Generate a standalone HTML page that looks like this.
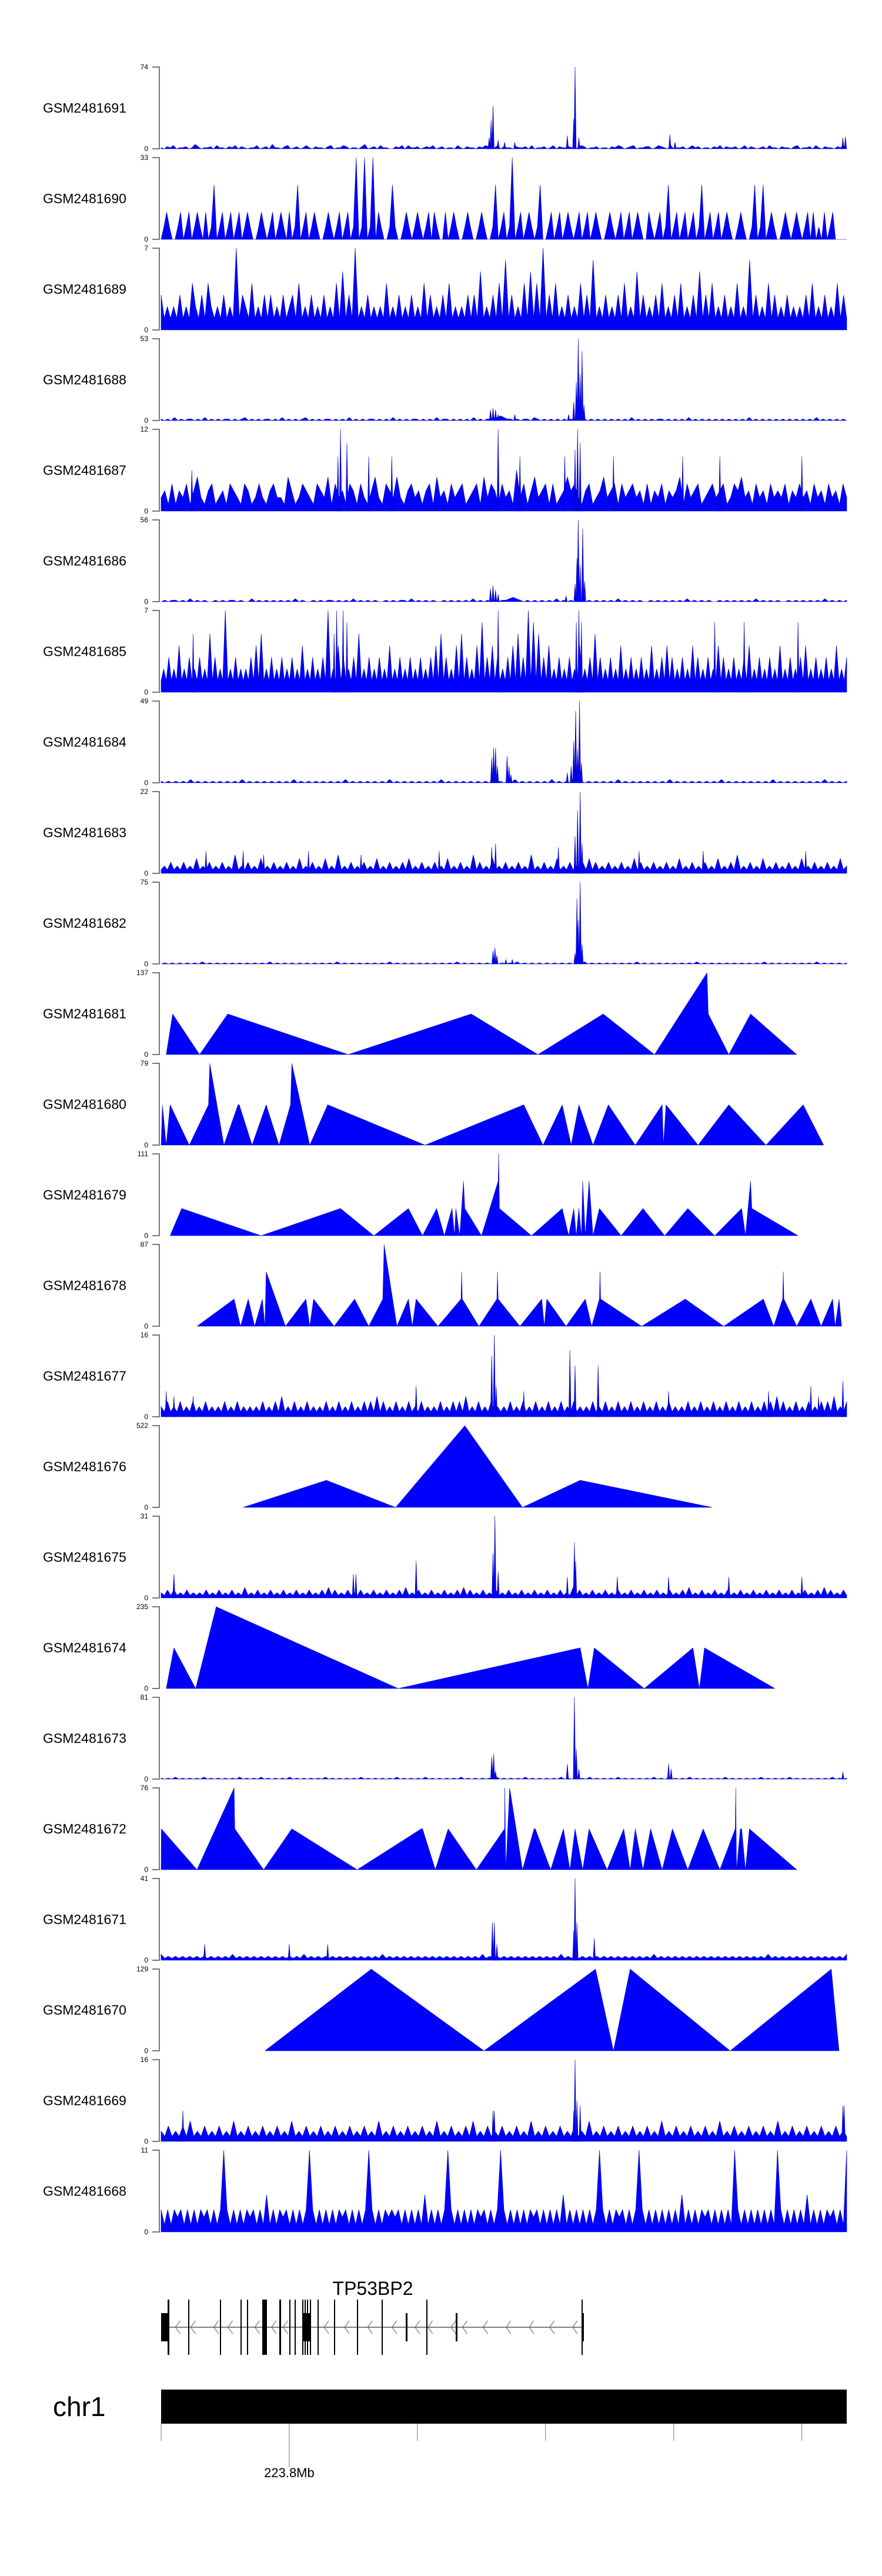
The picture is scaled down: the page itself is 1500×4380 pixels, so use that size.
<!DOCTYPE html>
<html><head><meta charset="utf-8">
<style>
html,body{margin:0;padding:0;background:#fff;}
svg{display:block;font-family:"Liberation Sans",Arial,sans-serif;}
</style></head>
<body>
<svg id="fig" width="1500" height="4380" viewBox="0 0 1500 4380" xmlns="http://www.w3.org/2000/svg">
<rect x="0" y="0" width="1500" height="4380" fill="#fff"/>
<g id="tracks"></g>
<g id="gene">
  <text x="634" y="3902" font-size="32" text-anchor="middle" fill="#000">TP53BP2</text>
</g>
<g id="ideo">
  <text x="90" y="4108" font-size="46" fill="#000">chr1</text>
  <rect x="274" y="4063" width="1166" height="58" fill="#000"/>
</g>
</svg>
<script>
// genomic domain (kb offset from 223.79 Mb)
const domainKb = [0, 53.5];
const tickKb = [0, 10, 20, 30, 40, 50];
const tickLabels = ["", "223.8Mb", "", "", "", ""];
const trackNames = ["GSM2481691","GSM2481690","GSM2481689","GSM2481688","GSM2481687","GSM2481686","GSM2481685","GSM2481684","GSM2481683","GSM2481682","GSM2481681","GSM2481680","GSM2481679","GSM2481678","GSM2481677","GSM2481676","GSM2481675","GSM2481674","GSM2481673","GSM2481672","GSM2481671","GSM2481670","GSM2481669","GSM2481668"];
const trackMax = [74,33,7,53,12,56,7,49,22,75,137,79,111,87,16,522,31,235,81,76,41,129,16,11];

// background coverage strings (base-36 digits = values, evenly spaced bins)
const bg1691 = "1021301120142011203110213021011301204110230120131021102301132011024012031100213031120121301201103102110213201302110211203011201302112101320112011021320123011220132103011201312011021302112013021012031102110230112031021102130";
const bg1690 = "05b5005b05b05b50b05m05b05b05b05b5005b505b05b50b05m05b05b5005b505b05b05x05x05x0b5005m5005b505b505b0b500b05b5005b5005b5005m05b05x05b05b505m005b05b05b505b05b05b5005b505b05b05b500b505b05m05b05b05b05m05b05b05b5005b5005m05m05b5005b505b505b0b050b05b00000";
const bg1689 = "3121213121421314212131217132141213131213123141213121312141513171213121214121312131214131213141212131315121314161312141514171314121312141316121312131412151312131412131412131513141213121412161312141312131212131412131214131";
const bg1688 = "1010201011010201010110101201010110102010101201010110101020101011010102010101101010201101010102010112232110101102101010101010201010101010101020101010110101010201010101010101010201010101010101010102010101010";
const bg1687 = "2314132413521341231432143124213422153124321432514231431421352143252134231341523142341234152431423162413523414123534213412352341423423141324132351423412342341243523142314232413242314231423142";
const bg1686 = "0101101020101001010110100201010101010201001010110101020101010010101102010101001010101020101010112321010101010201010010101010102010101001010101010201010100101010101020101010010101010102010101";
const bg1685 = "1213121412131213121513121712131212131415121312131213121412131213171214131213151213121312141213121312131213141513121415131214161314131213141513171615131412131213121412131513121312141213121312141213141312131214131213121413121312131412131213121412131213141213121312141213";
const bg1684 = "1010101020101010101010201010101010102010101010101020101010101020101010101010201010101010102010102010101010201010101010101010201010101010102010101010101020101010101010201010101010102010101";
const bg1683 = "1213121312141213121312151213121412131213121412131214121512131213121412131213141213121312141213121513121412131213121512131214121312131413121312131214131213121312141213121312141213151213121412131213121412131213121412";
const bg1682 = "0101010101020101010101010101020101010101010101020101010101010201010101010101010201010101010101020101010101010101020101010101010201010101010101020101010101010101020101010101010201010101";
const bg1677 = "2131213121312131212131213121212131213141213121312121312131213121313141312131213121312121312131314121312131212131213121312131213121312121312131213121312131213121312121312131213121312131213121313141312131213121313141213";
const bg1675 = "2131312131212131213121312141213121312131213121312131413121312131213121312131412131213121312131413121312131213121312131213121312141312131213121312131213121312131213141213121312131213121312131213121312131213141312131";
const bg1673 = "1010201010102010101010201010201010102010101010201010101020101010102010101020101010102010101010201010102010101010201010102010101020101010102010101010201010101020101010102010101020101010101020101";
const bg1671 = "3121212121212121212131212121212121212121312121212121212121212131212121212121212121212121213121212121212121212121312121212121212121212121213121212121212121212121212121212131212121212121212121213";
const bg1669 = "2131213141213121312141213121312131214121312131213121312131214121312131213121412131213141213121312131214121312131213121412131213121312131214121312131213121412131213121312141213121312131213121";
const bg1668 = "3131323131313231313b3131313231315131323131313b31313131323131313b31313232313131315131313b313131313231313b31313131323131313151313131313b31313231313b3131313131315131313231313131b313131313131b31313131513131323131b";

// peak lists: [position kb, value]
const pk1691 = [[25.6,10],[25.75,26],[25.9,39],[26.3,8],[26.8,6],[27.6,6],[31.7,12],[32.2,27],[32.3,74],[32.6,10],[39.7,13],[40.1,6],[53.2,10],[53.4,11]];
const pk1688 = [[25.7,7],[25.9,8],[26.1,7],[26.3,4],[27.6,4],[31.8,4],[32.2,12],[32.4,25],[32.55,53],[32.7,30],[32.85,45],[33.0,10]];
const pk1687 = [[2.4,6],[13.8,8],[14.0,12],[14.5,10],[16.2,8],[18.0,8],[26.3,12],[28.0,8],[31.5,8],[32.3,9],[32.5,12],[32.7,10],[35.3,8],[40.7,8],[43.6,8],[50.0,8]];
const pk1686 = [[25.7,9],[25.9,11],[26.1,8],[26.3,5],[31.6,4],[32.3,12],[32.45,30],[32.55,56],[32.7,25],[32.9,50],[33.05,14]];
const pk1685 = [[2.5,5],[13.5,5],[13.7,7],[14.2,7],[14.5,6],[26.3,7],[32.4,6],[32.6,7],[32.8,6],[43.2,6],[45.5,6],[49.7,6]];
const pk1684 = [[25.8,15],[25.95,21],[26.1,21],[26.25,10],[27.0,16],[27.15,10],[27.3,5],[31.7,6],[32.0,10],[32.2,25],[32.35,43],[32.5,20],[32.65,49],[32.8,12]];
const pk1683 = [[3.5,6],[6.4,6],[8.0,5],[11.5,6],[15.6,5],[21.7,6],[25.8,7],[26.1,8],[31.0,7],[32.3,10],[32.5,17],[32.7,22],[32.85,8],[37.3,6],[42.3,6],[50.3,6]];
const pk1682 = [[25.9,12],[26.05,15],[26.2,8],[26.9,4],[27.4,4],[32.3,10],[32.45,60],[32.55,40],[32.7,75],[32.85,18]];
const pk1677 = [[0.4,5],[1.0,4],[2.5,4],[19.9,6],[25.8,12],[26.0,16],[26.15,6],[28.3,5],[31.9,13],[32.3,10],[34.1,10],[39.6,5],[47.4,5],[50.7,6],[51.3,4],[53.2,7]];
const pk1675 = [[1.0,9],[15.0,9],[15.2,9],[19.9,14],[25.9,17],[26.05,31],[26.3,10],[31.7,8],[32.25,21],[32.35,14],[35.6,8],[39.6,8],[44.3,8],[50.0,8]];
const pk1673 = [[25.8,22],[25.95,25],[26.1,8],[31.7,15],[32.25,81],[32.4,30],[32.6,10],[39.6,15],[39.8,10],[53.2,7]];
const pk1671 = [[3.4,8],[10.0,8],[13.0,8],[25.85,19],[26.0,19],[26.2,8],[32.2,15],[32.3,41],[32.45,19],[33.8,11]];
const pk1669 = [[1.7,6],[25.9,6],[26.0,6],[32.2,6],[32.3,16],[32.45,8],[32.7,7],[53.2,7],[53.3,7]];

// sparse point tracks: [position kb, value]
const pt1681 = [[0.4,0],[0.9,68],[3.0,0],[5.2,68],[14.6,0],[24.2,68],[29.4,0],[34.5,68],[38.5,0],[42.6,137],[42.7,68],[44.3,0],[46.0,68],[49.6,0]];
const pt1680 = [[0,0],[0.1,39],[0.4,0],[0.7,39],[2.2,0],[3.7,39],[3.8,79],[4.9,0],[6.0,39],[6.1,39],[7.1,0],[8.2,39],[9.2,0],[10.1,39],[10.2,79],[11.6,0],[13.0,39],[20.6,0],[28.3,39],[29.8,0],[31.3,39],[32.0,0],[32.6,39],[33.7,0],[34.9,39],[37.0,0],[39.1,39],[39.2,0],[39.4,39],[41.9,0],[44.3,39],[47.2,0],[50.1,39],[51.7,0]];
const pt1679 = [[0.7,0],[1.6,37],[7.8,0],[14.0,37],[16.6,0],[19.3,37],[20.4,0],[21.5,37],[22.1,0],[22.7,37],[22.9,0],[23.0,37],[23.3,0],[23.6,74],[23.7,37],[25.0,0],[26.3,74],[26.34,111],[26.4,37],[28.9,0],[31.3,37],[31.8,0],[32.2,37],[32.4,0],[32.6,37],[32.8,0],[32.9,74],[33.1,0],[33.4,74],[33.7,0],[34.2,37],[35.9,0],[37.6,37],[39.3,0],[41.1,37],[43.2,0],[45.3,37],[45.6,0],[46.0,74],[46.1,37],[49.7,0]];
const pt1678 = [[2.8,0],[5.7,29],[6.2,0],[6.8,29],[7.3,0],[7.9,29],[8.1,0],[8.2,58],[9.7,0],[11.3,29],[11.6,0],[11.9,29],[13.5,0],[15.1,29],[16.2,0],[17.3,29],[17.4,87],[18.4,0],[19.3,29],[19.6,0],[19.9,29],[21.6,0],[23.4,29],[23.45,58],[23.5,29],[24.8,0],[26.2,29],[26.25,58],[26.3,29],[28.0,0],[29.7,29],[29.9,0],[30.1,29],[31.6,0],[33.1,29],[33.6,0],[34.2,29],[34.25,58],[34.3,29],[37.5,0],[40.9,29],[43.9,0],[47.0,29],[47.8,0],[48.5,29],[48.55,58],[48.6,29],[49.6,0],[50.7,29],[51.5,0],[52.4,29],[52.6,0],[52.9,29],[53.1,0]];
const pt1676 = [[6.4,0],[12.9,173],[18.3,0],[23.7,522],[28.2,0],[32.7,173],[43.0,0]];
const pt1674 = [[0.4,0],[1.0,117],[2.7,0],[4.3,235],[18.5,0],[32.7,117],[33.3,0],[33.8,117],[37.7,0],[41.5,117],[42.0,0],[42.4,117],[47.9,0]];
const pt1672 = [[0,0],[0.02,38],[2.8,0],[5.7,76],[5.75,38],[8.0,0],[10.2,38],[15.3,0],[20.3,38],[20.4,38],[21.4,0],[22.4,38],[24.6,0],[26.8,38],[26.82,76],[26.9,0],[27.2,76],[28.2,0],[29.1,38],[29.2,38],[30.4,0],[31.4,38],[31.9,0],[32.3,38],[32.9,0],[33.4,38],[34.8,0],[36.1,38],[36.6,0],[37.0,38],[37.6,0],[38.2,38],[39.1,0],[39.9,38],[41.1,0],[42.3,38],[43.6,0],[44.8,38],[44.84,76],[44.9,0],[45.2,38],[45.3,38],[45.6,0],[45.9,38],[49.6,0]];
const pt1670 = [[8.1,0],[16.4,129],[25.2,0],[33.9,129],[35.3,0],[36.6,129],[44.4,0],[52.3,129],[52.9,0]];

// gene model (kb)
const exonTall = [[0.5,0.12],[2.1,0.1],[4.6,0.1],[6.2,0.06],[6.7,0.06],[7.9,0.37],[9.2,0.14],[10.0,0.06],[10.4,0.06],[11.0,0.06],[11.2,0.06],[11.4,0.06],[11.6,0.06],[12.2,0.06],[13.5,0.06],[15.3,0.06],[17.2,0.06],[20.7,0.1],[32.8,0.05]];
const exonShort = [[0,0.5],[11.0,0.7],[19.1,0.06],[23.0,0.08],[32.8,0.18]];
const chevronKb = [1.3,2.5,4.3,5.4,7.5,8.8,9.7,12.9,14.5,16.3,18.2,20.0,21.0,22.8,23.7,25.3,27.1,28.9,30.5,32.3];
const geneSpanKb = [0, 32.9];

const trackData = {
  "GSM2481691":{bg:bg1691,pk:pk1691},"GSM2481690":{bg:bg1690},"GSM2481689":{bg:bg1689},
  "GSM2481688":{bg:bg1688,pk:pk1688},"GSM2481687":{bg:bg1687,pk:pk1687},"GSM2481686":{bg:bg1686,pk:pk1686},
  "GSM2481685":{bg:bg1685,pk:pk1685},"GSM2481684":{bg:bg1684,pk:pk1684},"GSM2481683":{bg:bg1683,pk:pk1683},
  "GSM2481682":{bg:bg1682,pk:pk1682},"GSM2481681":{pt:pt1681},"GSM2481680":{pt:pt1680},
  "GSM2481679":{pt:pt1679},"GSM2481678":{pt:pt1678},"GSM2481677":{bg:bg1677,pk:pk1677},
  "GSM2481676":{pt:pt1676},"GSM2481675":{bg:bg1675,pk:pk1675},"GSM2481674":{pt:pt1674},
  "GSM2481673":{bg:bg1673,pk:pk1673},"GSM2481672":{pt:pt1672},"GSM2481671":{bg:bg1671,pk:pk1671},
  "GSM2481670":{pt:pt1670},"GSM2481669":{bg:bg1669,pk:pk1669},"GSM2481668":{bg:bg1668}
};

const NS = "http://www.w3.org/2000/svg";
const X0 = 274, X1 = 1440;
function xs(kb){ return X0 + (kb - domainKb[0]) / (domainKb[1] - domainKb[0]) * (X1 - X0); }
function mk(tag, attrs, parent){ const e = document.createElementNS(NS, tag); for (const k in attrs) e.setAttribute(k, attrs[k]); parent.appendChild(e); return e; }

const tracksG = document.getElementById("tracks");
const TOP0 = 114, PITCH = 154, H = 139;
trackNames.forEach(function(name, i){
  const top = TOP0 + i * PITCH, base = top + H, mx = trackMax[i];
  const ys = function(v){ return base - v / mx * H; };
  const g = mk("g", {}, tracksG);
  
  
  const lab = mk("text", {x: 73, y: top + H/2 + 8, "font-size": 23, fill: "#000"}, g);
  lab.textContent = name;
  
  
  const ax = mk("path", {d: "M259," + top + "H271V" + base + "H259", fill: "none", stroke: "#777", "stroke-width": 2}, g);
  
  
  const tMax = mk("text", {x: 252, y: top + 4, "font-size": 12, "text-anchor": "end", fill: "#000"}, g);
  tMax.textContent = String(mx);
  
  
  const tMin = mk("text", {x: 252, y: base + 4, "font-size": 12, "text-anchor": "end", fill: "#000"}, g);
  tMin.textContent = "0";
  
  
  const d = trackData[name];
  if (d.bg) {
    const n = d.bg.length;
    let pts = [[xs(0), base]];
    for (let j = 0; j < n; j++) {
      const v = Math.min(parseInt(d.bg[j], 36), mx);
      pts.push([xs(domainKb[0] + j / (n - 1) * (domainKb[1] - domainKb[0])), ys(v)]);
    }
    pts.push([xs(domainKb[1]), base]);
    const a = mk("polygon", {points: pts.map(p => p[0].toFixed(1) + "," + p[1].toFixed(1)).join(" "), fill: "#0000ff", stroke: "#0000b0", "stroke-width": 0.6}, g);
    
    
  }
  if (d.pk) {
    d.pk.forEach(function(p){
      const s = mk("polygon", {points: xs(p[0] - 0.09).toFixed(1) + "," + base + " " + xs(p[0]).toFixed(1) + "," + ys(p[1]).toFixed(1) + " " + xs(p[0] + 0.09).toFixed(1) + "," + base, fill: "#0000ff", stroke: "#0000b0", "stroke-width": 0.6}, g);
      
      
    });
  }
  if (d.pt) {
    const pts = d.pt.map(p => [xs(p[0]), ys(p[1])]);
    pts.unshift([xs(d.pt[0][0]), base]);
    pts.push([xs(d.pt[d.pt.length - 1][0]), base]);
    const a = mk("polygon", {points: pts.map(p => p[0].toFixed(1) + "," + p[1].toFixed(1)).join(" "), fill: "#0000ff", stroke: "#0000c0", "stroke-width": 0.5}, g);
    
    
  }
});

// gene track
const geneG = document.getElementById("gene");
const intron = mk("line", {x1: xs(geneSpanKb[0]), x2: xs(geneSpanKb[1]), y1: 3957, y2: 3957, stroke: "#000", "stroke-width": 1}, geneG);


chevronKb.forEach(function(k){
  const c = mk("path", {d: "M" + (xs(k) + 4) + ",3946L" + (xs(k) - 4) + ",3957L" + (xs(k) + 4) + ",3968", fill: "none", stroke: "#555", "stroke-width": 1}, geneG);
  
  
});
exonTall.forEach(function(e){
  const x = Math.round(xs(e[0]));
  const w = Math.max(2, Math.round(xs(e[0] + e[1]) - xs(e[0])));
  const r = mk("rect", {x: x, y: 3910, width: w, height: 94, fill: "#000"}, geneG);
  
  
});
exonShort.forEach(function(e){
  const x = Math.round(xs(e[0]));
  const w = Math.max(3, Math.round(xs(e[0] + e[1]) - xs(e[0])));
  const r = mk("rect", {x: x, y: 3933, width: w, height: 48, fill: "#000"}, geneG);
  
  
});

// ideogram axis ticks
const ideoG = document.getElementById("ideo");
tickKb.forEach(function(k, i){
  const y2 = tickLabels[i] ? 4195 : 4150;
  const t = mk("line", {x1: xs(k), x2: xs(k), y1: 4121, y2: y2, stroke: "#777", "stroke-width": 1}, ideoG);
  
  
  if (tickLabels[i]) {
    const tl = mk("text", {x: xs(k), y: 4212, "font-size": 22, "text-anchor": "middle", fill: "#000"}, ideoG);
    tl.textContent = tickLabels[i];
    
    
  }
});
</script>
</body></html>
